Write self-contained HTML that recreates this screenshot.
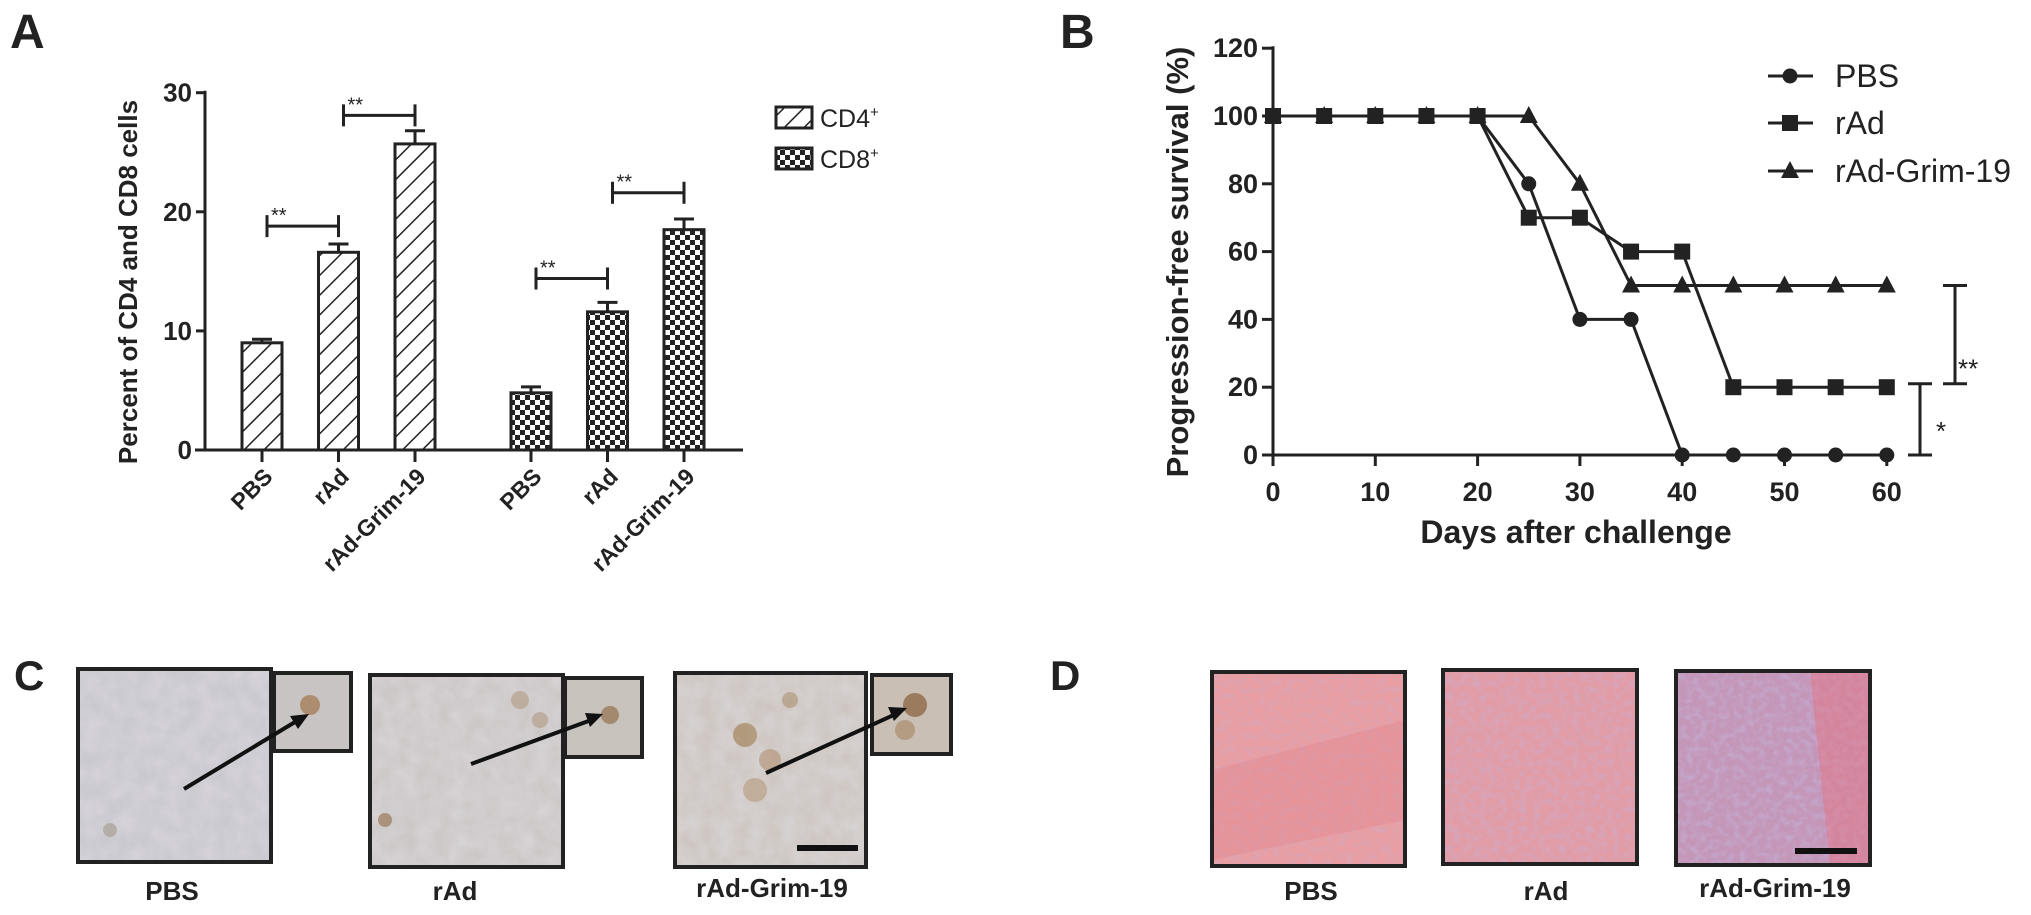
<!DOCTYPE html>
<html><head><meta charset="utf-8"><style>
html,body{margin:0;padding:0;background:#fff}
svg{display:block}
text{font-family:"Liberation Sans",Arial,sans-serif;font-weight:bold;fill:#222}
</style></head><body>
<svg id="fig" width="2031" height="915" viewBox="0 0 2031 915" xmlns="http://www.w3.org/2000/svg">
<defs>
<pattern id="hatch" patternUnits="userSpaceOnUse" width="14" height="14" patternTransform="rotate(45)">
<rect width="14" height="14" fill="#fff"/><line x1="0" y1="0" x2="0" y2="14" stroke="#222" stroke-width="3"/>
</pattern>
<pattern id="check" patternUnits="userSpaceOnUse" width="10" height="10">
<rect width="10" height="10" fill="#fff"/><rect width="5" height="5" fill="#222"/><rect x="5" y="5" width="5" height="5" fill="#222"/>
</pattern>
<filter id="texC" x="0" y="0" width="1" height="1">
<feTurbulence type="fractalNoise" baseFrequency="0.06" numOctaves="3" seed="3"/>
<feColorMatrix type="matrix" values="0 0 0 0 0.72  0 0 0 0 0.70  0 0 0 0 0.74  0.8 0 0 0 0"/>
</filter>
<filter id="texD" x="0" y="0" width="1" height="1">
<feTurbulence type="fractalNoise" baseFrequency="0.15" numOctaves="2" seed="5"/>
<feColorMatrix type="matrix" values="0 0 0 0 0.55  0 0 0 0 0.45  0 0 0 0 0.70  1.4 0 0 0 -0.55"/>
</filter>
</defs>

<text x="10" y="48" font-size="48">A</text>
<text x="1060" y="48" font-size="48">B</text>
<text x="14" y="690" font-size="42">C</text>
<text x="1050" y="690" font-size="42">D</text>

<g id="chartA"></g>
<g id="chartB"></g>

<g>
<g>
<rect x="78" y="669" width="193" height="193" fill="#c6c5cc"/><rect x="78" y="669" width="193" height="193" filter="url(#texC)"/>
<circle cx="110" cy="830" r="7" fill="#a59a8c" opacity="0.6"/>
<rect x="78" y="669" width="193" height="193" fill="none" stroke="#222" stroke-width="4"/>
<rect x="274" y="673" width="77" height="78" fill="#c9c4c4"/><circle cx="310" cy="705" r="10" fill="#a5805a" opacity="0.8"/>
<rect x="274" y="673" width="77" height="78" fill="none" stroke="#222" stroke-width="4"/>
<line x1="184" y1="789" x2="300" y2="719" stroke="#111" stroke-width="4"/><polygon points="309,714 290,716 298,729" fill="#111"/>
</g>
<g>
<rect x="370" y="675" width="193" height="192" fill="#c9c4c2"/><rect x="370" y="675" width="193" height="192" filter="url(#texC)"/>
<circle cx="385" cy="820" r="7" fill="#9a7a5a" opacity="0.7"/><circle cx="520" cy="700" r="9" fill="#b09a80" opacity="0.6"/><circle cx="540" cy="720" r="8" fill="#b09a80" opacity="0.6"/>
<rect x="370" y="675" width="193" height="192" fill="none" stroke="#222" stroke-width="4"/>
<rect x="565" y="678" width="77" height="79" fill="#c8c2bd"/><circle cx="610" cy="715" r="9" fill="#9a7a5a" opacity="0.8"/>
<rect x="565" y="678" width="77" height="79" fill="none" stroke="#222" stroke-width="4"/>
<line x1="471" y1="764" x2="594" y2="719" stroke="#111" stroke-width="4"/><polygon points="603,714 585,713 590,727" fill="#111"/>
</g>
<g>
<rect x="675" y="673" width="191" height="194" fill="#cbc2ba"/><rect x="675" y="673" width="191" height="194" filter="url(#texC)"/>
<circle cx="745" cy="735" r="12" fill="#a5865f" opacity="0.7"/><circle cx="770" cy="760" r="11" fill="#b09070" opacity="0.6"/><circle cx="755" cy="790" r="12" fill="#b59a7a" opacity="0.6"/><circle cx="790" cy="700" r="8" fill="#a5865f" opacity="0.5"/>
<rect x="797" y="845" width="61" height="6" fill="#111"/>
<rect x="675" y="673" width="191" height="194" fill="none" stroke="#222" stroke-width="4"/>
<rect x="872" y="675" width="79" height="79" fill="#c9bfb5"/><circle cx="915" cy="705" r="12" fill="#8f6a48" opacity="0.8"/><circle cx="905" cy="730" r="10" fill="#a5865f" opacity="0.6"/>
<rect x="872" y="675" width="79" height="79" fill="none" stroke="#222" stroke-width="4"/>
<line x1="766" y1="773" x2="898" y2="713" stroke="#111" stroke-width="4"/><polygon points="907,708 888,707 894,721" fill="#111"/>
</g>
<text x="172" y="900" font-size="26" text-anchor="middle">PBS</text>
<text x="455" y="900" font-size="26" text-anchor="middle">rAd</text>
<text x="772" y="897" font-size="26" text-anchor="middle">rAd-Grim-19</text>
</g>

<g>
<g>
<rect x="1212" y="672" width="193" height="194" fill="#e89ea2"/><rect x="1212" y="672" width="193" height="194" filter="url(#texD)" opacity="0.5"/>
<polygon points="1212,770 1405,720 1405,820 1212,860" fill="#e07e88" opacity="0.3"/>
<rect x="1212" y="672" width="193" height="194" fill="none" stroke="#222" stroke-width="4"/>
</g>
<g>
<rect x="1443" y="670" width="194" height="194" fill="#e29ca6"/><rect x="1443" y="670" width="194" height="194" filter="url(#texD)" opacity="0.7"/>
<rect x="1443" y="670" width="194" height="194" fill="none" stroke="#222" stroke-width="4"/>
</g>
<g>
<rect x="1676" y="671" width="194" height="194" fill="#c496b8"/><rect x="1676" y="671" width="194" height="194" filter="url(#texD)"/>
<polygon points="1810,671 1870,671 1870,865 1830,865" fill="#e8707e" opacity="0.45"/>
<rect x="1795" y="848" width="62" height="6" fill="#111"/>
<rect x="1676" y="671" width="194" height="194" fill="none" stroke="#222" stroke-width="4"/>
</g>
<text x="1311" y="900" font-size="26" text-anchor="middle">PBS</text>
<text x="1546" y="900" font-size="26" text-anchor="middle">rAd</text>
<text x="1775" y="897" font-size="26" text-anchor="middle">rAd-Grim-19</text>
</g>
</svg>
<script>
var NS="http://www.w3.org/2000/svg";
// ---- Panel A data ----
var aCategories=["PBS","rAd","rAd-Grim-19"];
var aCd4Values=[9.0,16.6,25.7];
var aCd4Errors=[0.3,0.7,1.1];
var aCd8Values=[4.8,11.6,18.5];
var aCd8Errors=[0.5,0.8,0.9];
var aYTicks=[0,10,20,30];
var aSigFrom=[0,1,3,4];
var aSigTo=[1,2,4,5];
var aSigLevel=[18.8,28.1,14.4,21.6];
var aSigLabel=["**","**","**","**"];
// ---- Panel B data ----
var bDays=[0,5,10,15,20,25,30,35,40,45,50,55,60];
var bPBS=[100,100,100,100,100,80,40,40,0,0,0,0,0];
var bRAd=[100,100,100,100,100,70,70,60,60,20,20,20,20];
var bGrim=[100,100,100,100,100,100,80,50,50,50,50,50,50];
var bXTicks=[0,10,20,30,40,50,60];
var bYTicks=[0,20,40,60,80,100,120];

function mk(tag,attrs,parent,txt){var e=document.createElementNS(NS,tag);for(var k in attrs)e.setAttribute(k,attrs[k]);if(txt!==undefined)e.textContent=txt;parent.appendChild(e);return e;}

(function(){
var g=document.getElementById('chartA');
function yA(v){return 450-v*11.91;}
function xA(i){return 262+(i%3)*76.5+(i>=3?269:0);}
var bw=40;
var ax=mk('line',{x1:205,y1:yA(30)-2,x2:205,y2:450,stroke:'#222','stroke-width':3},g);


var bx=mk('line',{x1:195,y1:450,x2:743,y2:450,stroke:'#222','stroke-width':3},g);


aYTicks.forEach(function(t){
 var l=mk('line',{x1:196,y1:yA(t),x2:205,y2:yA(t),stroke:'#222','stroke-width':3},g);
 
 
 var tx=mk('text',{x:192,y:yA(t)+9,'font-size':26,'text-anchor':'end'},g,String(t));
 
 
});
var tt=mk('text',{x:0,y:0,'font-size':26,'text-anchor':'middle',transform:'translate(137,282) rotate(-90)'},g,'Percent of CD4 and CD8 cells');


var all=aCd4Values.concat(aCd8Values), errs=aCd4Errors.concat(aCd8Errors);
for(var i=0;i<6;i++){
 var cx=xA(i),v=all[i];
 var r=mk('rect',{x:cx-bw/2,y:yA(v),width:bw,height:450-yA(v),fill:i<3?'url(#hatch)':'url(#check)',stroke:'#222','stroke-width':3},g);
 
 
 var e=mk('path',{d:'M'+cx+' '+yA(v)+'V'+yA(v+errs[i])+'M'+(cx-10)+' '+yA(v+errs[i])+'H'+(cx+10),stroke:'#222','stroke-width':3,fill:'none'},g);
 
 
 var tk=mk('line',{x1:cx,y1:450,x2:cx,y2:462,stroke:'#222','stroke-width':3},g);
 
 
 var lb=mk('text',{x:0,y:0,'font-size':23,'text-anchor':'end',transform:'translate('+(cx+12)+',478) rotate(-45)'},g,aCategories[i%3]);
 
 
}
for(var s=0;s<aSigFrom.length;s++){
 var x1=xA(aSigFrom[s])+5,x2=xA(aSigTo[s]),y=yA(aSigLevel[s]);
 var p=mk('path',{d:'M'+x1+' '+(y-11)+'V'+(y+11)+'M'+x1+' '+y+'H'+x2+'M'+x2+' '+(y-11)+'V'+(y+11),stroke:'#222','stroke-width':3,fill:'none'},g);
 
 
 var st=mk('text',{x:x1+4,y:y-4,'font-size':20,style:'font-weight:normal'},g,aSigLabel[s]);
 
 
}
var leg=[['url(#hatch)','CD4',107],['url(#check)','CD8',148]];
leg.forEach(function(L){
 var r=mk('rect',{x:776,y:L[2],width:36,height:21,fill:L[0],stroke:'#222','stroke-width':3},g);
 
 
 var t=mk('text',{x:820,y:L[2]+20,'font-size':25,style:'font-weight:normal'},g,L[1]);
 
 
 mk('tspan',{'font-size':15,dy:-10},t,'+');
});
})();

(function(){
var g=document.getElementById('chartB');
function xB(d){return 1273+d*10.23;}
function yB(p){return 455-p*3.39;}
var ya=mk('line',{x1:1273,y1:yB(120)-2,x2:1273,y2:455,stroke:'#222','stroke-width':3},g);


var xa=mk('line',{x1:1262,y1:455,x2:xB(60)+2,y2:455,stroke:'#222','stroke-width':3},g);


bYTicks.forEach(function(t){
 var l=mk('line',{x1:1262,y1:yB(t),x2:1273,y2:yB(t),stroke:'#222','stroke-width':3},g);
 
 
 var tx=mk('text',{x:1258,y:yB(t)+9,'font-size':27,'text-anchor':'end'},g,String(t));
 
 
});
bXTicks.forEach(function(t){
 var l=mk('line',{x1:xB(t),y1:455,x2:xB(t),y2:466,stroke:'#222','stroke-width':3},g);
 
 
 var tx=mk('text',{x:xB(t),y:501,'font-size':27,'text-anchor':'middle'},g,String(t));
 
 
});
var xt=mk('text',{x:1576,y:543,'font-size':32,'text-anchor':'middle'},g,'Days after challenge');


var yt=mk('text',{x:0,y:0,'font-size':31,'text-anchor':'middle',transform:'translate(1188,262) rotate(-90)'},g,'Progression-free survival (%)');


function marker(type,x,y,parent){
 var m;
 if(type==='circle')m=mk('circle',{cx:x,cy:y,r:7.5,fill:'#222'},parent);
 else if(type==='square')m=mk('rect',{x:x-8,y:y-8,width:16,height:16,fill:'#222'},parent);
 else m=mk('polygon',{points:(x)+','+(y-10)+' '+(x-9)+','+(y+7)+' '+(x+9)+','+(y+7),fill:'#222'},parent);
 return m;
}
var series=[['grim',bGrim,'triangle'],['pbs',bPBS,'circle'],['rad',bRAd,'square']];
series.forEach(function(S){
 var d='';S[1].forEach(function(v,i){d+=(i?'L':'M')+xB(bDays[i])+' '+yB(v);});
 var ln=mk('path',{d:d,fill:'none',stroke:'#222','stroke-width':3},g);
 
 
 S[1].forEach(function(v,i){
  var m=marker(S[2],xB(bDays[i]),yB(v),g);
  
  
 });
});
var leg=[['circle','PBS',76],['square','rAd',123],['triangle','rAd-Grim-19',171]];
leg.forEach(function(L){
 var l=mk('line',{x1:1768,y1:L[2],x2:1813,y2:L[2],stroke:'#222','stroke-width':3},g);
 
 
 var m=marker(L[0],1790,L[2],g);
 
 
 var t=mk('text',{x:1835,y:L[2]+11,'font-size':32,style:'font-weight:normal'},g,L[1]);
 
 
});
var b1=mk('path',{d:'M1943 '+yB(50)+'H1967M1955 '+yB(50)+'V'+yB(21)+'M1943 '+yB(21)+'H1967',stroke:'#222','stroke-width':3,fill:'none'},g);


var s1=mk('text',{x:1958,y:yB(24)+4,'font-size':26,style:'font-weight:normal'},g,'**');


var b2=mk('path',{d:'M1908 '+yB(21)+'H1932M1920 '+yB(21)+'V'+yB(0)+'M1908 '+yB(0)+'H1932',stroke:'#222','stroke-width':3,fill:'none'},g);


var s2=mk('text',{x:1936,y:yB(3)-5,'font-size':26,style:'font-weight:normal'},g,'*');


})();
</script>
</body></html>
